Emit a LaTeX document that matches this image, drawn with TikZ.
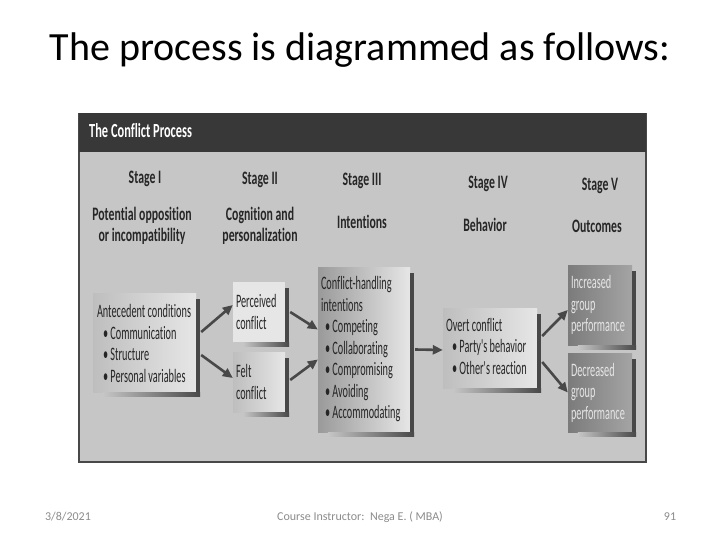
\documentclass[tikz,border=0pt]{standalone}
\usepackage{fontspec}
\setmainfont{Carlito}
\newfontfamily\bodyfont[FakeStretch=0.54,Ligatures=NoCommon]{Carlito}
\newfontfamily\headfont[FakeStretch=0.62,Ligatures=NoCommon]{Carlito}
\usetikzlibrary{arrows.meta,calc,shadings}
\definecolor{bgc}{HTML}{C6C6C6}
\definecolor{barc}{HTML}{383838}
\definecolor{dk}{HTML}{484848}
\definecolor{lightbox}{HTML}{E6E6E6}
\definecolor{midbox}{HTML}{BEBEBE}
\definecolor{darkbox}{HTML}{9A9A9A}
\definecolor{footc}{HTML}{8C8C8C}
\newcommand\boxshadow[1]{%
  \fill[dk] ($(#1.north east)+(0,6)$) rectangle ($(#1.south east)+(4,4)$);
  \shade[left color=bgc, right color=dk] ($(#1.south west)+(10,0)$) rectangle ($(#1.south east)+(4,4)$);}
\begin{document}
\begin{tikzpicture}[x=1pt,y=-1pt,
  stagehead/.style={font=\headfont\fontsize{19}{20.5}\bfseries\selectfont, text=black!85, align=center, inner sep=0pt},
  box/.style={inner sep=0pt, anchor=center, draw=none},
  btext/.style={font=\bodyfont\fontsize{19}{21.5}\selectfont, text=black!85, align=left, inner sep=0pt, anchor=west},
  arr/.style={draw=dk, line width=2.6pt, -{Triangle[length=10pt,width=9pt]}},
  foot/.style={font=\fontsize{12}{14}\selectfont, text=footc}]
\useasboundingbox (0,0) rectangle (720,540);
\fill[white] (0,0) rectangle (720,540);
% title
\node[font=\fontsize{40}{48}\selectfont] (title) at (360,50) {The process is diagrammed as follows:};
% picture frame
\fill[bgc] (79,113) rectangle (646,462);
\draw[dk, line width=1.2pt] (79,113) -- (79,462) -- (646,462) -- (646,113);
\fill[barc] (79,113) rectangle (646,152);
\node[font=\headfont\fontsize{20}{19}\bfseries\selectfont, text=white, anchor=west, inner sep=0pt] (hdr) at (89,131) {The Conflict Process};
% stages
\node[stagehead] (s1) at (145,179) {Stage I};
\node[stagehead] (s2) at (260,180) {Stage II};
\node[stagehead] (s3) at (362,181) {Stage III};
\node[stagehead] (s4) at (488,184) {Stage IV};
\node[stagehead] (s5) at (600,186) {Stage V};
\node[stagehead] (t1) at (142,226) {Potential opposition\\or incompatibility};
\node[stagehead] (t2) at (260,226) {Cognition and\\personalization};
\node[stagehead] (t3) at (362,222) {Intentions};
\node[stagehead] (t4) at (485,225) {Behavior};
\node[stagehead] (t5) at (597,226) {Outcomes};
% boxes
\node[box, minimum width=103pt, minimum height=99pt, left color=midbox, right color=lightbox] (ante) at (144.5,342.5) {};
\node[box, minimum width=52pt, minimum height=60pt, fill=lightbox] (perc) at (259,312) {};
\node[box, minimum width=52pt, minimum height=60pt, left color=midbox, right color=lightbox] (felt) at (259,382) {};
\node[box, minimum width=92pt, minimum height=165pt, left color=darkbox, right color=lightbox] (intent) at (364,349.5) {};
\node[box, minimum width=94pt, minimum height=80pt, left color=midbox, right color=lightbox] (overt) at (490,348) {};
\node[box, minimum width=64pt, minimum height=80pt, left color=darkbox!80!black, right color=darkbox!90!white] (incr) at (600,305) {};
\node[box, minimum width=64pt, minimum height=79pt, left color=darkbox!80!black, right color=darkbox!90!white] (decr) at (600,392.5) {};
\boxshadow{ante}
\boxshadow{perc}
\boxshadow{felt}
\boxshadow{intent}
\boxshadow{overt}
\boxshadow{incr}
\boxshadow{decr}
% box texts
\node[btext] (anteT) at ($(ante.west)+(4,1)$)
  {Antecedent conditions\\\hspace*{6pt}\textbullet\ Communication\\\hspace*{6pt}\textbullet\ Structure\\\hspace*{6pt}\textbullet\ Personal variables};
\node[btext] (percT) at ($(perc.west)+(3,0)$) {Perceived\\conflict};
\node[btext] (feltT) at ($(felt.west)+(3,0)$) {Felt\\conflict};
\node[btext] (intentT) at ($(intent.west)+(3,0)$)
  {Conflict-handling\\intentions\\\hspace*{4pt}\textbullet\ Competing\\\hspace*{4pt}\textbullet\ Collaborating\\\hspace*{4pt}\textbullet\ Compromising\\\hspace*{4pt}\textbullet\ Avoiding\\\hspace*{4pt}\textbullet\ Accommodating};
\node[btext] (overtT) at ($(overt.west)+(3,-2)$)
  {Overt conflict\\\hspace*{6pt}\textbullet\ Party's behavior\\\hspace*{6pt}\textbullet\ Other's reaction};
\node[btext, text=white!90!black] (incrT) at ($(incr.west)+(3,0)$) {Increased\\group\\performance};
\node[btext, text=white!90!black] (decrT) at ($(decr.west)+(3,0)$) {Decreased\\group\\performance};
% arrows
\draw[arr] ($(ante.east)+(5,-10.5)$) -- ($(perc.west)+(0,-7)$);
\draw[arr] ($(ante.east)+(5,12.5)$) -- ($(felt.west)+(0,-4)$);
\draw[arr] ($(perc.east)+(5,0)$) -- ($(intent.west)+(0,-20)$);
\draw[arr] ($(felt.east)+(5,-2)$) -- ($(intent.west)+(0,10)$);
\draw[arr] ($(intent.east)+(5,0)$) -- ($(overt.west)+(0,2)$);
\draw[arr] ($(overt.east)+(5,-12)$) -- ($(incr.west)+(0,5)$);
\draw[arr] ($(overt.east)+(5,14)$) -- ($(decr.west)+(0,0)$);
% footer
\node[foot] (date) at (68,517) {3/8/2021};
\node[foot] (instr) at (360,517) {Course Instructor:\ \ Nega E. ( MBA)};
\node[foot] (page) at (670,517) {91};
\end{tikzpicture}
\end{document}
